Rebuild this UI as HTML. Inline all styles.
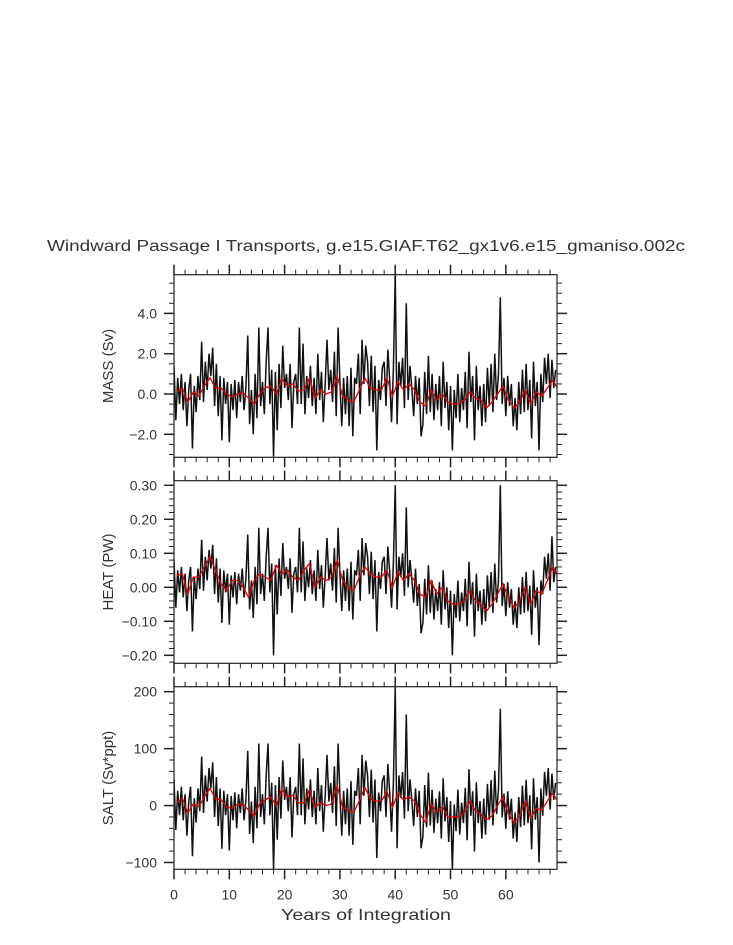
<!DOCTYPE html>
<html><head><meta charset="utf-8"><style>
html,body{margin:0;padding:0;background:#fff;}
svg{display:block;font-family:"Liberation Sans",sans-serif;}
</style></head><body>
<svg id="chart" width="733" height="945" viewBox="0 0 733 945" xmlns="http://www.w3.org/2000/svg">
<text x="366" y="251" text-anchor="middle" font-size="16" fill="#333" textLength="638" lengthAdjust="spacingAndGlyphs">Windward Passage I Transports, g.e15.GIAF.T62_gx1v6.e15_gmaniso.002c</text>
<text x="366" y="920" text-anchor="middle" font-size="16" fill="#333" textLength="170" lengthAdjust="spacingAndGlyphs">Years of Integration</text>
</svg>
<script>
const xTicks=[0,10,20,30,40,50,60];
const massRed=[0.1,0.3,-0.4,0.1,-0.1,0.4,0.8,0.3,0.3,0.0,-0.15,0.0,0.05,-0.2,-0.5,0.0,0.3,0.4,0.0,0.75,0.4,0.5,0.15,0.2,0.8,-0.2,0.2,0.0,0.1,0.9,-0.1,-0.3,-0.4,0.2,0.8,0.3,0.2,0.2,0.8,-0.1,0.6,0.2,0.5,0.2,-0.4,-0.6,0.2,-0.3,0.0,-0.4,-0.5,-0.5,-0.3,0.1,-0.2,-0.3,-0.7,-0.4,0.0,0.4,-0.3,-0.7,-0.4,0.2,-0.5,0.1,-0.1,0.3,0.7,0.2];
const massValues=[1.4,-1.3,0.8,-0.5,1.0,-0.8,0.6,-1.6,0.2,1.0,-2.7,0.4,-0.9,0.9,-0.3,2.6,-0.4,1.6,0.2,2.0,0.9,2.3,-0.6,1.5,-1.1,0.9,-2.3,0.8,-0.5,0.6,-2.4,0.5,-0.8,0.7,-1.2,0.6,-0.4,0.9,-0.8,0.3,2.9,-1.5,0.2,-2.0,1.0,-1.2,3.3,-0.6,0.6,-1.0,1.6,3.3,-0.5,1.2,-3.1,1.1,-1.8,1.5,-0.7,2.4,0.3,1.0,-0.3,1.5,-1.7,0.6,1.0,-0.5,3.3,-0.5,2.5,-1.0,0.9,-0.2,1.4,-0.6,0.8,-1.0,2.0,-0.3,1.1,-1.4,0.5,2.7,0.2,1.2,-0.4,2.1,-1.1,3.3,0.6,-1.6,0.8,-1.0,0.9,-1.6,1.3,-2.1,0.8,0.5,2.0,-1.0,2.7,0.5,2.4,1.6,-0.6,1.9,-0.9,1.4,-2.8,0.7,-0.3,1.3,1.6,-0.6,2.2,0.7,-1.4,1.2,5.9,-1.5,1.6,0.4,1.8,-0.7,4.5,-0.3,1.4,0.3,-1.1,0.9,-0.5,0.8,-2.1,-1.5,1.1,-1.0,1.9,-0.9,1.0,-1.3,0.5,-0.8,0.9,-1.6,1.6,-0.7,0.6,-1.8,0.4,-2.8,0.2,-1.2,1.0,-1.4,0.3,-0.8,1.1,-1.7,2.1,-0.4,0.9,-2.3,1.4,-0.8,0.4,-1.6,0.5,-1.4,1.3,-0.6,1.5,-0.9,2.0,-0.3,1.0,4.8,-0.5,0.8,-1.1,0.9,-0.6,0.5,-1.6,-0.2,-1.8,0.6,-1.0,1.2,-0.9,1.5,-0.8,0.7,-2.2,1.6,-0.6,0.6,-2.8,1.0,-0.4,1.8,0.5,2.0,-0.2,1.7,0.3,1.2];
const massTicks=[-2,0,2,4];
const massTickLabels=["\u22122.0","0.0","2.0","4.0"];
const heatRed=[0.035,0.04,-0.02,0.03,0.03,0.06,0.09,0.05,0.01,-0.01,0.02,0.02,0.0,-0.03,0.02,0.04,0.03,0.02,0.065,0.04,0.05,0.03,0.02,0.05,0.07,0.0,0.03,0.02,0.03,0.08,0.02,0.0,-0.01,0.03,0.06,0.04,0.03,0.03,0.05,0.0,0.045,0.02,0.04,0.02,-0.02,-0.03,0.02,-0.02,0.0,-0.04,-0.05,-0.05,-0.04,-0.01,-0.04,-0.05,-0.07,-0.05,-0.02,0.01,-0.03,-0.06,-0.04,0.0,-0.05,-0.01,-0.02,0.02,0.06,0.03];
const heatValues=[0.08,-0.06,0.05,-0.015,0.06,-0.03,0.04,-0.07,0.02,0.06,-0.13,0.03,-0.035,0.055,-0.005,0.14,-0.01,0.09,0.02,0.11,0.055,0.125,-0.02,0.085,-0.045,0.055,-0.105,0.05,-0.015,0.04,-0.11,0.035,-0.03,0.045,-0.05,0.04,-0.01,0.055,-0.03,0.025,0.155,-0.065,0.02,-0.09,0.06,-0.05,0.175,-0.02,0.04,-0.04,0.09,0.175,-0.015,0.07,-0.2,0.065,-0.08,0.085,-0.025,0.13,0.025,0.06,-0.005,0.085,-0.075,0.04,0.06,-0.015,0.175,-0.015,0.135,-0.04,0.055,0.0,0.08,-0.02,0.05,-0.04,0.11,-0.005,0.065,-0.06,0.035,0.145,0.02,0.07,-0.01,0.115,-0.045,0.175,0.04,-0.07,0.05,-0.04,0.055,-0.07,0.075,-0.095,0.05,0.035,0.11,-0.04,0.145,0.035,0.13,0.09,-0.02,0.105,-0.035,0.08,-0.13,0.045,-0.005,0.075,0.09,-0.02,0.12,0.045,-0.06,0.07,0.30,-0.065,0.09,0.03,0.1,-0.025,0.235,0.0,0.08,0.025,-0.045,0.055,-0.055,0.01,-0.135,-0.105,0.025,-0.08,0.065,-0.075,0.02,-0.095,-0.005,-0.07,0.015,-0.11,0.05,-0.065,0.0,-0.12,-0.01,-0.2,-0.02,-0.09,0.02,-0.1,-0.015,-0.07,0.025,-0.115,0.075,-0.05,0.015,-0.145,0.04,-0.07,-0.01,-0.11,-0.005,-0.1,0.035,-0.06,0.045,-0.075,0.07,-0.045,0.02,0.30,-0.055,0.01,-0.085,0.015,-0.06,-0.005,-0.11,-0.04,-0.12,0.0,-0.08,0.03,-0.075,0.045,-0.07,0.005,-0.14,0.05,-0.06,0.0,-0.17,0.02,-0.02,0.09,0.025,0.1,-0.01,0.15,0.015,0.06];
const heatTicks=[-0.2,-0.1,0,0.1,0.2,0.3];
const heatTickLabels=["\u22120.20","\u22120.10","0.00","0.10","0.20","0.30"];
const saltRed=[5,13,-13,3,-2,15,30,12,10,-2,-5,2,2,-8,-18,3,10,15,0,28,15,18,5,5,28,-3,5,0,3,35,-3,-8,-12,8,32,12,8,8,25,-3,22,10,15,8,-15,-30,3,-12,-2,-20,-20,-20,-12,8,-10,-15,-25,-18,0,15,-15,-30,-18,8,-22,-5,-8,8,22,5];
const saltValues=[46,-43,26,-17,33,-26,20,-53,7,33,-89,13,-30,30,-10,86,-13,53,7,66,30,76,-20,50,-36,30,-76,26,-17,20,-79,17,-26,23,-40,20,-13,30,-26,10,96,-50,7,-66,33,-40,109,-20,20,-33,53,109,-17,40,-112,36,-60,50,-23,79,10,33,-10,50,-56,20,33,-17,109,-17,83,-33,30,-7,46,-20,26,-33,66,-10,36,-46,17,89,7,40,-13,69,-36,109,20,-53,26,-33,30,-53,43,-69,26,17,66,-33,89,17,79,53,-20,63,-30,46,-92,23,-10,43,53,-20,73,23,-46,40,208,-75,53,13,59,-23,160,-10,46,10,-36,30,-20,26,-75,-55,36,-38,58,-35,28,-48,12,-31,25,-58,48,-28,15,-64,8,-112,2,-45,28,-51,5,-31,31,-61,64,-18,25,-81,41,-31,8,-58,12,-51,38,-25,45,-35,61,-15,28,170,-21,21,-41,25,-25,12,-58,-12,-64,15,-38,35,-35,45,-31,18,-77,48,-25,15,-100,30,-18,59,17,66,-7,56,10,40];
const saltTicks=[-100,0,100,200];
const saltTickLabels=["\u2212100","0","100","200"];

const NS="http://www.w3.org/2000/svg";
const svg=document.getElementById('chart');
const X0=174,X1=557,XMAX=69.25;
function sx(v){return X0+(X1-X0)*v/XMAX;}
function mk(tag,attrs,parent){const e=document.createElementNS(NS,tag);for(const k in attrs)e.setAttribute(k,attrs[k]);(parent||svg).appendChild(e);return e;}

function panel(key,top,bot,ymin,ymax,vals,red,ticks,labels,minorStep,title,showX){
  const sy=v=>bot-(bot-top)*(v-ymin)/(ymax-ymin);
  const g=mk('g',{});
  
  
  const cp=mk('clipPath',{id:'cp-'+key},g);
  mk('rect',{x:X0,y:top,width:X1-X0,height:bot-top},cp);
  let d='';
  vals.forEach((v,i)=>{d+=(i?'L':'M')+sx(i/3).toFixed(2)+' '+sy(v).toFixed(2);});
  const p=mk('path',{d:d,fill:'none',stroke:'#111','stroke-width':'1.5','stroke-linejoin':'bevel','clip-path':'url(#cp-'+key+')'},g);
  
  
  let d2='';
  red.forEach((v,i)=>{d2+=(i?'L':'M')+sx(i+0.5).toFixed(2)+' '+sy(v).toFixed(2);});
  const r=mk('path',{d:d2,fill:'none',stroke:'#e00000','stroke-width':'1.3','clip-path':'url(#cp-'+key+')'},g);
  
  
  const fr=mk('rect',{x:X0,y:top,width:X1-X0,height:bot-top,fill:'none',stroke:'#222','stroke-width':'1.2'},g);
  
  
  for(let t=0;t<=XMAX;t+=2){
    const maj=t%10===0, L=maj?10:5, x=sx(t);
    mk('line',{x1:x,x2:x,y1:top,y2:top-L,stroke:'#222','stroke-width':maj?1.5:1},g);
    mk('line',{x1:x,x2:x,y1:bot,y2:bot+L,stroke:'#222','stroke-width':maj?1.5:1},g);
  }
  const n0=Math.ceil(ymin/minorStep-1e-6),n1=Math.floor(ymax/minorStep+1e-6);
  for(let k=n0;k<=n1;k++){const y=sy(k*minorStep);
    mk('line',{x1:X0,x2:X0-5,y1:y,y2:y,stroke:'#222'},g);
    mk('line',{x1:X1,x2:X1+5,y1:y,y2:y,stroke:'#222'},g);}
  ticks.forEach((t,i)=>{const y=sy(t);
    mk('line',{x1:X0,x2:X0-10,y1:y,y2:y,stroke:'#222','stroke-width':1.5},g);
    mk('line',{x1:X1,x2:X1+10,y1:y,y2:y,stroke:'#222','stroke-width':1.5},g);
    const tx=mk('text',{x:157,y:y+5,'text-anchor':'end','font-size':'14',fill:'#333'},g);
    tx.textContent=labels[i];
    
    
  });
  const yt=mk('text',{x:0,y:0,'text-anchor':'middle','font-size':'15',fill:'#333',transform:'translate(113,'+((top+bot)/2)+') rotate(-90)'},g);
  yt.textContent=title;
  
  
  if(showX){xTicks.forEach(t=>{
    const tx=mk('text',{x:sx(t),y:bot+30,'text-anchor':'middle','font-size':'14',fill:'#333'},g);
    tx.textContent=String(t);
    
    
  });}
}
panel('mass',274.7,457.3,-3.14,5.92,massValues,massRed,massTicks,massTickLabels,0.5,'MASS (Sv)',false);
panel('heat',480.7,663.3,-0.2235,0.3135,heatValues,heatRed,heatTicks,heatTickLabels,0.02,'HEAT (PW)',false);
panel('salt',686.7,869.3,-112,208.8,saltValues,saltRed,saltTicks,saltTickLabels,20,'SALT (Sv*ppt)',true);
</script>
</body></html>
